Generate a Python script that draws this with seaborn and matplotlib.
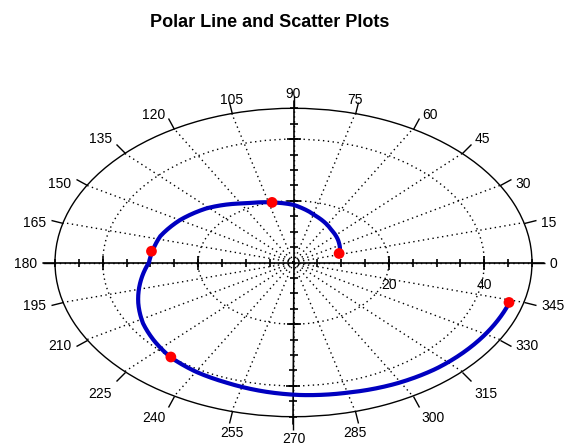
import numpy as np
import matplotlib
matplotlib.use("Agg")
import matplotlib.pyplot as plt
import seaborn as sns

# spiral line (angle in degrees, radius)
line_theta = [17, 33, 53, 72, 90, 103, 115, 120, 136, 150, 163, 173, 180, 192,
              202, 212, 221, 230, 240, 250, 262, 272, 285, 299, 311, 322, 333, 344]
line_r = [10.1, 11.4, 13.2, 15.7, 18.7, 20.0, 21.3, 22.1, 25.3, 27.5, 29.2, 29.8, 30.3, 32.9,
          35.1, 37.2, 38.7, 40.1, 40.9, 41.4, 42.3, 43.0, 43.7, 44.8, 45.6, 46.1, 46.6, 47.1]

# red scatter points
pt_theta = [17, 103, 173, 230, 344]
pt_r = [10, 20, 30, 40, 47]

angle_ticks = list(range(0, 360, 15))
radial_ticks = [20, 40]
r_max = 50

sns.set_style("white")
plt.rcParams['font.family'] = ['Liberation Sans', 'DejaVu Sans']
plt.rcParams['text.color'] = 'black'

fig = plt.figure(figsize=(5.66, 4.45), dpi=100)
ax = fig.add_axes([55 / 566, 1 - 416.7 / 445, 477 / 566, 308.4 / 445], projection='polar')
ax.set_aspect('auto')
ax.set_ylim(0, r_max)

# grid: dotted spokes and rings
dots = (0, (1, 2.5))
ax.set_thetagrids(angle_ticks, [''] * len(angle_ticks))
ax.set_yticks(radial_ticks)
ax.set_yticklabels([])
ax.grid(True, linestyle=dots, color='black', linewidth=1.0)
# in polar axes tick1 sits at the centre and tick2 on the outer rim
ax.tick_params(axis='x', which='major', bottom=False, top=True, direction='out',
               length=9, width=1, colors='black')
ax.spines['polar'].set_color('black')
ax.spines['polar'].set_linewidth(1.0)

# angle labels outside the ellipse (offsets in pixels, converted to points)
px = 72 / 100
for a in angle_ticks:
    c, s = np.cos(np.deg2rad(a)), np.sin(np.deg2rad(a))
    if c > 0.3:
        ha, dx = 'left', 18 * c
    elif c < -0.3:
        ha, dx = 'right', 18 * c
    else:
        ha, dx = 'center', 0
    if s > 0.6:
        va, dy = 'bottom', 7
    elif s < -0.6:
        va, dy = 'top', -15
    elif s >= 0:
        va, dy = 'center', 5 * s - 1.5
    else:
        va, dy = 'center', -1.5 + 10 * s
    ax.annotate(str(a), xy=(np.deg2rad(a), r_max), xytext=(dx * px, dy * px),
                textcoords='offset points', ha=ha, va=va, fontsize=10,
                annotation_clip=False)

# cross axes through the centre
ext = r_max * 1.05
for a in [0, 90, 180, 270]:
    ax.plot([np.deg2rad(a)] * 2, [0, ext], color='black', lw=1.2, clip_on=False, zorder=2)
    minor = np.arange(5, r_max + 1, 5)
    mk = '|' if a in (0, 180) else '_'
    ax.plot([np.deg2rad(a)] * len(minor), minor, ls='none', marker=mk, ms=6,
            mew=1.2, color='black', clip_on=False, zorder=2)
    ax.plot([np.deg2rad(a)] * len(radial_ticks), radial_ticks, ls='none', marker=mk, ms=10,
            mew=1.2, color='black', clip_on=False, zorder=2)

for v in radial_ticks:
    ax.annotate(str(v), xy=(0, v), xytext=(0, -11), textcoords='offset points',
                ha='center', va='top', fontsize=10)

# data
sns.lineplot(x=np.deg2rad(line_theta), y=line_r, ax=ax, sort=False, estimator=None,
             color='#0000c0', lw=3, zorder=3)
# draw segments as polar curves rather than straight chords
ax.lines[-1].get_path()._interpolation_steps = 30
sns.scatterplot(x=np.deg2rad(pt_theta), y=pt_r, ax=ax, color='#ff0000', s=60,
                edgecolor='none', zorder=4)
ax.set_xlabel('')
ax.set_ylabel('')

fig.text(270 / 566, 1 - 26.7 / 445, 'Polar Line and Scatter Plots', ha='center', va='baseline',
         fontsize=13, fontweight='bold')

fig.savefig('out.png', dpi=100)
